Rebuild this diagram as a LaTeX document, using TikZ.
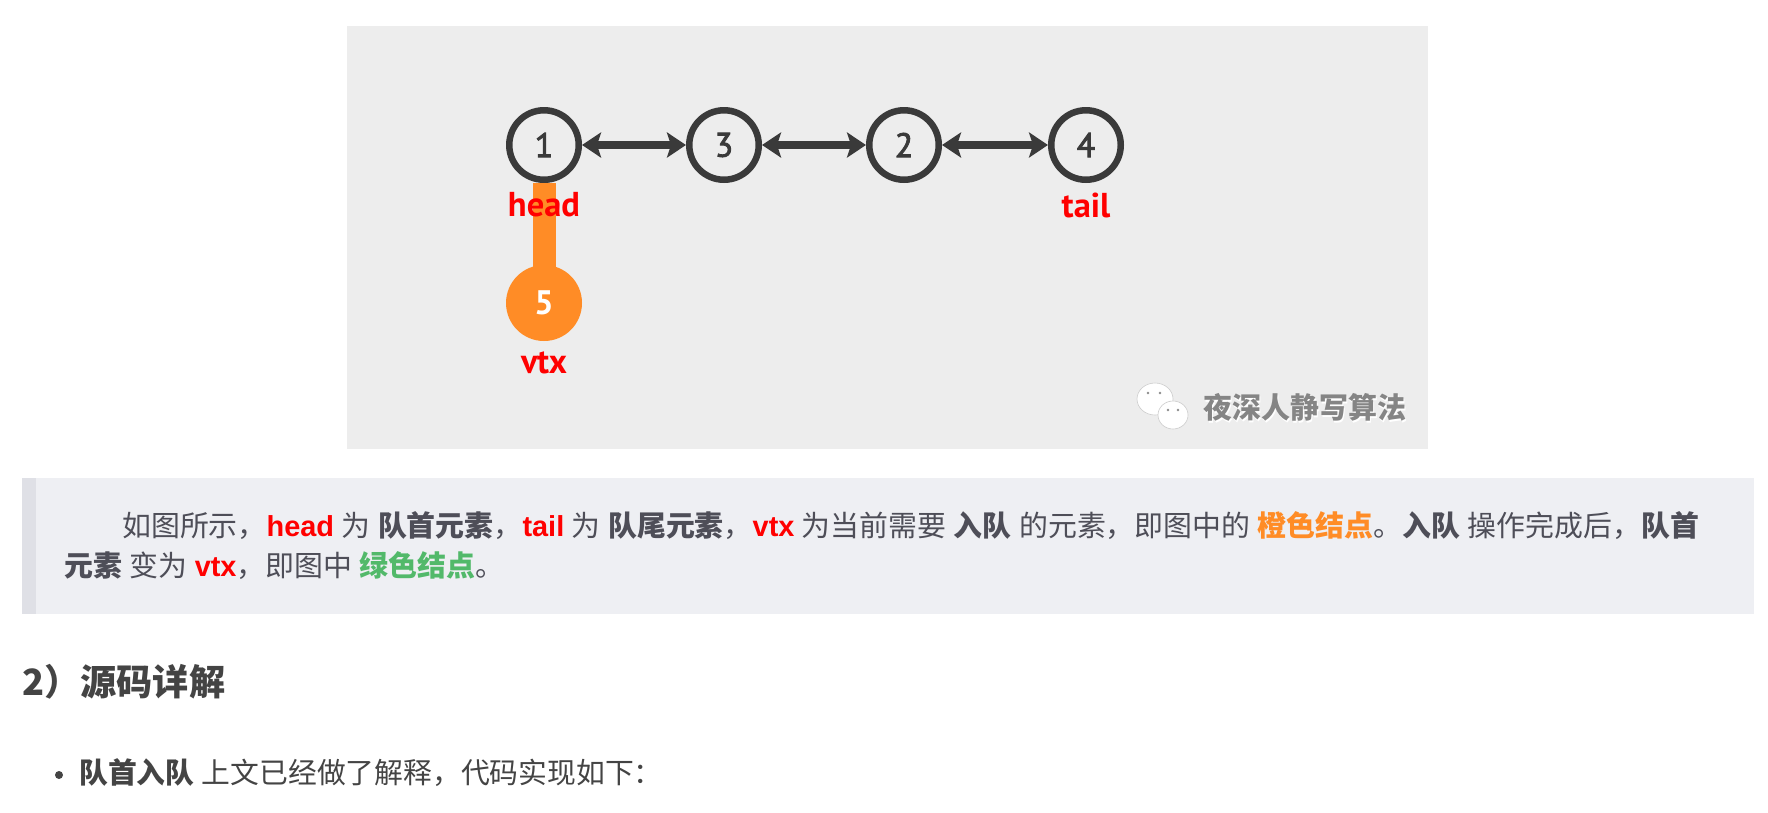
\documentclass[tikz,border=0pt]{standalone}
\usepackage{fontspec}
\setmainfont{Noto Sans CJK SC}
\newfontfamily\latinb{Liberation Sans}[BoldFont={Liberation Sans Bold}]
\newfontfamily\ptsans{PT Sans}
\newfontfamily\ptthick{PT Sans}[FakeBold=2.5]
\usetikzlibrary{arrows.meta}
\definecolor{panel}{HTML}{EDEDED}
\definecolor{quotebg}{HTML}{EEEFF3}
\definecolor{quotebar}{HTML}{DFE0E6}
\definecolor{qtext}{HTML}{4E4E58}
\definecolor{dark}{HTML}{3A3A3A}
\definecolor{orange1}{HTML}{FF8C26}
\definecolor{green1}{HTML}{52B96A}
\definecolor{red1}{HTML}{FF0000}
\definecolor{headtext}{HTML}{444444}
\newcommand{\rd}[1]{\textcolor{red1}{\latinb\bfseries #1}}
\newcommand{\bb}[1]{{\bfseries #1}}
\newcommand{\sq}{\hspace{7.5pt}}
\tikzset{
  x=1pt,y=-1pt,
  vert/.style={circle,draw=dark,line width=6.5pt,fill=panel,minimum size=69.5pt,inner sep=0pt,text=dark,font=\ptthick\fontsize{34}{34}\selectfont},
  hot/.style={circle,fill=orange1,minimum size=76pt,inner sep=0pt,text=white,font=\ptsans\bfseries\fontsize{34}{34}\selectfont},
  duplex/.style={draw=dark,line width=8.5pt,{Stealth[length=19pt,width=25pt,inset=4pt]}-{Stealth[length=19pt,width=25pt,inset=4pt]}},
  bond/.style={draw=orange1,line width=23pt,shorten >=-4pt},
  tag/.style={text=red1,inner sep=0pt,font=\ptsans\bfseries\fontsize{34.5}{34}\selectfont},
  para/.style={anchor=base west,inner sep=0pt,text=qtext,font=\fontsize{28.9}{29}\selectfont},
  eye/.style={fill=black!45},
}
\begin{document}
\begin{tikzpicture}
\useasboundingbox (0,0) rectangle (1768,812);
\fill[white] (0,0) rectangle (1768,812);
\fill[panel] (347,26) rectangle (1428,449);
\fill[quotebg] (22,478) rectangle (1754,614);
\fill[quotebar] (22,478) rectangle (36,614);
\node[vert] (n1) at (544,145) {1};
\node[vert] (n3) at (724,145) {3};
\node[vert] (n2) at (904,145) {2};
\node[vert] (n4) at (1086,145) {4};
\node[hot] (n5) at (544,303) {5};
\draw[bond] (n1) -- (n5);
\draw[duplex] (n1) -- (n3);
\draw[duplex] (n3) -- (n2);
\draw[duplex] (n2) -- (n4);
\node[tag] (lhead) at (544,205) {head};
\node[tag] (ltail) at (1086,205) {tail};
\node[tag] (lvtx) at (544,363) {vtx};
% watermark
\fill[white,draw=gray!40,line width=.6pt] (1155,399) ellipse (18 and 16);
\fill[white,draw=gray!40,line width=.6pt] (1173,415) ellipse (15 and 14);
\fill[eye] (1148,393) circle (1.3);
\fill[eye] (1160,393) circle (1.3);
\fill[eye] (1168,410) circle (1.3);
\fill[eye] (1178,410) circle (1.3);
\node[inner sep=0pt,text=white] (wmshadow) at (1306,409) {\bfseries\fontsize{29}{29}\selectfont 夜深人静写算法};
\node[inner sep=0pt,text=black!48] (wm) at (1305,407) {\bfseries\fontsize{29}{29}\selectfont 夜深人静写算法};
% quote
\node[para] (q1) at (122,536) {如图所示，\rd{head}\sq 为\sq\bb{队首元素}，\rd{tail}\sq 为\sq\bb{队尾元素}，\rd{vtx}\sq 为当前需要\sq\bb{入队}\sq 的元素，即图中的\sq\textcolor{orange1}{\bfseries 橙色结点}。\bb{入队}\sq 操作完成后，\bb{队首}};
\node[para] (q2) at (64,576) {\bb{元素}\sq 变为\sq\rd{vtx}，即图中\sq\textcolor{green1}{\bfseries 绿色结点}。};
\node[anchor=base west,inner sep=0pt,text=headtext,font=\bfseries\fontsize{36.2}{36}\selectfont] (h2) at (22,695) {2）源码详解};
\fill[headtext] (59,775) circle (4);
\node[anchor=base west,inner sep=0pt,text=headtext,font=\fontsize{28.8}{29}\selectfont] (li) at (79,783) {\bb{队首入队}\sq 上文已经做了解释，代码实现如下：};
\end{tikzpicture}
\end{document}
